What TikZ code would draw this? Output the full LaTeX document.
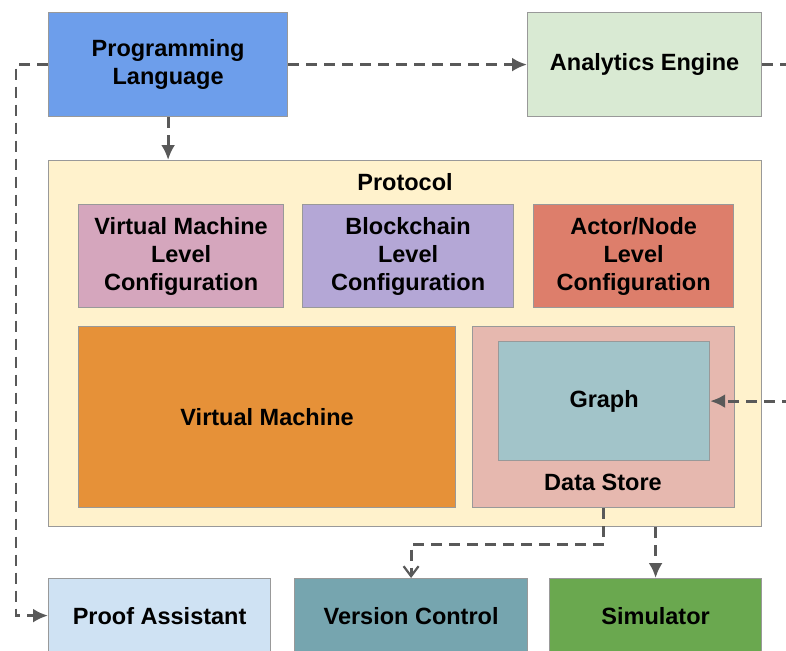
\documentclass[tikz,border=0pt]{standalone}
\usepackage{fontspec}
\setmainfont{Liberation Sans}
\usepackage{xcolor}
\usetikzlibrary{calc,
	positioning,
	arrows.meta}
\definecolor{langblue}{HTML}{6D9EEB}
\definecolor{enginegreen}{HTML}{D9EAD3}
\definecolor{protoyellow}{HTML}{FFF2CC}
\definecolor{vmpink}{HTML}{D5A6BD}
\definecolor{chainpurple}{HTML}{B4A7D6}
\definecolor{actorred}{HTML}{DD7E6B}
\definecolor{vmorange}{HTML}{E69138}
\definecolor{storepink}{HTML}{E6B8AF}
\definecolor{graphteal}{HTML}{A2C4C9}
\definecolor{proofblue}{HTML}{CFE2F3}
\definecolor{vcteal}{HTML}{76A5AF}
\definecolor{simgreen}{HTML}{6AA84F}
\definecolor{edgegray}{HTML}{999999}
\definecolor{flowgray}{HTML}{595959}

\begin{document}
\begin{tikzpicture}[x=1pt, y=-1pt,
	box/.style={draw=edgegray, line width=1.2pt, anchor=north west, inner sep=0pt,
		align=center, font=\fontsize{23.5}{28}\selectfont\bfseries},
	caption/.style={inner sep=0pt, font=\fontsize{23.5}{28}\selectfont\bfseries},
	flow/.style={draw=flowgray, line width=2.8pt, dash pattern=on 11pt off 7pt},
	tip/.style={-{Latex[length=15pt,width=14pt]}},
	barb/.style={-{Straight Barb[length=10pt,width=15pt,line width=2.2pt]}}]
	\useasboundingbox (0,0) rectangle (786,650);
	\node[box, fill=langblue, minimum width=239pt, minimum height=104pt] (lang) at (48,12) {Programming\\Language};
	\node[box, fill=enginegreen, minimum width=234pt, minimum height=104pt] (engine) at (527,12) {Analytics Engine};
	\node[box, fill=protoyellow, minimum width=713pt, minimum height=366pt] (proto) at (48,160) {};
	\node[caption] (protolbl) at (405,182) {Protocol};
	\node[box, fill=vmpink, minimum width=205pt, minimum height=103pt] (vmconf) at (78,204) {Virtual Machine\\Level\\Configuration};
	\node[box, fill=chainpurple, minimum width=211pt, minimum height=103pt] (chainconf) at (302,204) {Blockchain\\Level\\Configuration};
	\node[box, fill=actorred, minimum width=200pt, minimum height=103pt] (actorconf) at (533,204) {Actor/Node\\Level\\Configuration};
	\node[box, fill=vmorange, minimum width=377pt, minimum height=181pt] (vm) at (78,326) {Virtual Machine};
	\node[box, fill=storepink, minimum width=262pt, minimum height=181pt] (store) at (472,326) {};
	\node[box, fill=graphteal, minimum width=211pt, minimum height=119pt] (graph) at (498,341) {Graph};
	\node[caption] (storelbl) at (603,482) {Data Store};
	\node[box, fill=proofblue, minimum width=222pt, minimum height=74pt] (proof) at (48,578) {Proof Assistant};
	\node[box, fill=vcteal, minimum width=233pt, minimum height=74pt] (vc) at (294,578) {Version Control};
	\node[box, fill=simgreen, minimum width=212pt, minimum height=74pt] (sim) at (549,578) {Simulator};
	\draw[flow, tip] (lang.west) -- ++(-32,0) |- (proof.west);
	\draw[flow, tip] (lang.east) -- (engine.west);
	\draw[flow, tip] (engine.east) -- ++(45,0) |- (graph.east);
	\draw[flow, tip] (lang.south) -- (proto.north -| lang.south);
	\draw[flow, barb] (store.south) -- ++(0,36) -| (vc.north);
	\draw[flow, tip] (proto.south -| sim.north) -- (sim.north);
\end{tikzpicture}
\end{document}
